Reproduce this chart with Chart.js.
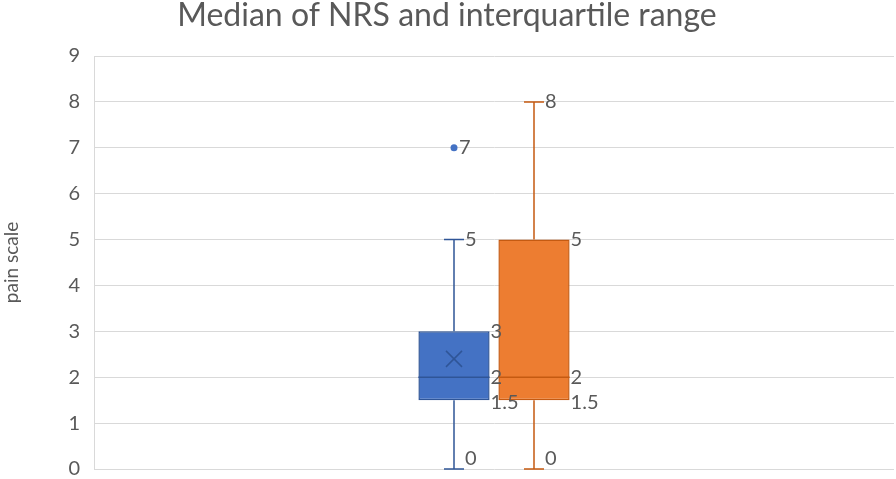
<!DOCTYPE html>
<html>
<head>
<meta charset="utf-8">
<script src="https://cdn.jsdelivr.net/npm/chart.js@4.4.1/dist/chart.umd.min.js"></script>
<style>
html,body{margin:0;padding:0;background:#fff;}
#wrap{width:896px;height:479px;position:relative;}
</style>
</head>
<body>
<div id="wrap"><canvas id="c" width="896" height="479"></canvas></div>
<script>
// ---- data ----
const categories = [''];
const seriesNames = ['Group 1', 'Group 2'];
const minVals = [0, 0];
const q1Vals = [1.5, 1.5];
const medianVals = [2, 2];
const q3Vals = [3, 5];
const maxVals = [5, 8];
const meanVals = [2.4, null];
const outlierVals = [[7], []];
const yTickValues = [0, 1, 2, 3, 4, 5, 6, 7, 8, 9];

// ---- styles ----
const fillColors = ['#4472C4', '#ED7D31'];
const lineColors = ['#2F5597', '#C55A11'];
const textColor = '#595959';
const FONT = 'Lato, "Open Sans", sans-serif';
const labelFont = '20px ' + FONT;

const boxPlugin = {
  id: 'boxParts',
  afterDatasetsDraw(chart) {
    const ctx = chart.ctx;
    const y = chart.scales.y;
    const area = chart.chartArea;
    ctx.save();
    chart.data.datasets.forEach((ds, i) => {
      const meta = chart.getDatasetMeta(i);
      meta.data.forEach((bar, j) => {
        const cx = bar.x;
        const half = bar.width / 2;
        const col = lineColors[i];
        ctx.strokeStyle = col;
        ctx.lineWidth = 1.5;
        const capHalf = 10;
        // whiskers
        ctx.beginPath();
        ctx.moveTo(cx, y.getPixelForValue(q3Vals[i]));
        ctx.lineTo(cx, y.getPixelForValue(maxVals[i]));
        ctx.moveTo(cx - capHalf, y.getPixelForValue(maxVals[i]));
        ctx.lineTo(cx + capHalf, y.getPixelForValue(maxVals[i]));
        ctx.moveTo(cx, y.getPixelForValue(q1Vals[i]));
        ctx.lineTo(cx, y.getPixelForValue(minVals[i]));
        ctx.moveTo(cx - capHalf, y.getPixelForValue(minVals[i]));
        ctx.lineTo(cx + capHalf, y.getPixelForValue(minVals[i]));
        ctx.stroke();
        // median
        ctx.beginPath();
        const my = y.getPixelForValue(medianVals[i]);
        ctx.moveTo(cx - half, my);
        ctx.lineTo(cx + half, my);
        ctx.stroke();
        // mean
        if (meanVals[i] != null) {
          const ey = y.getPixelForValue(meanVals[i]);
          const s = 8;
          ctx.beginPath();
          ctx.moveTo(cx - s, ey - s); ctx.lineTo(cx + s, ey + s);
          ctx.moveTo(cx + s, ey - s); ctx.lineTo(cx - s, ey + s);
          ctx.stroke();
        }
        // outliers
        ctx.fillStyle = fillColors[i];
        outlierVals[i].forEach(v => {
          ctx.beginPath();
          ctx.arc(cx, y.getPixelForValue(v), 3.5, 0, Math.PI * 2);
          ctx.fill();
        });
        // labels
        ctx.fillStyle = textColor;
        ctx.font = labelFont;
        ctx.textAlign = 'left';
        ctx.textBaseline = 'middle';
        const clampY = p => Math.min(p, area.bottom - 10);
        ctx.fillText(String(maxVals[i]), cx + capHalf + 1, clampY(y.getPixelForValue(maxVals[i])));
        ctx.fillText(String(minVals[i]), cx + capHalf + 1, clampY(y.getPixelForValue(minVals[i])));
        ctx.fillText(String(q3Vals[i]), cx + half + 1, y.getPixelForValue(q3Vals[i]));
        ctx.fillText(String(medianVals[i]), cx + half + 1, y.getPixelForValue(medianVals[i]));
        ctx.fillText(String(q1Vals[i]), cx + half + 1, y.getPixelForValue(q1Vals[i]) + 2);
        outlierVals[i].forEach(v => {
          ctx.fillText(String(v), cx + 5, y.getPixelForValue(v));
        });
      });
    });
    ctx.restore();
  }
};

new Chart(document.getElementById('c'), {
  type: 'bar',
  data: {
    labels: categories,
    datasets: seriesNames.map((name, i) => ({
      label: name,
      data: [[q1Vals[i], q3Vals[i]]],
      backgroundColor: fillColors[i],
      borderColor: lineColors[i],
      borderWidth: 1.5,
      borderSkipped: false,
      categoryPercentage: 0.2,
      barPercentage: 0.89
    }))
  },
  options: {
    responsive: false,
    animation: false,
    devicePixelRatio: 1,
    layout: { padding: { left: 0, right: 2, top: 0, bottom: 10 } },
    plugins: {
      legend: { display: false },
      tooltip: { enabled: false },
      title: {
        display: true,
        text: 'Median of NRS and interquartile range',
        color: textColor,
        font: { family: FONT, size: 32, weight: 'normal', lineHeight: 1.0 },
        padding: { top: 0, bottom: 24 }
      }
    },
    scales: {
      x: {
        display: false
      },
      y: {
        min: 0,
        max: 9,
        afterBuildTicks: s => { s.ticks = yTickValues.map(v => ({ value: v })); },
        grid: { color: '#D9D9D9', lineWidth: 1, drawTicks: false },
        border: { display: true, color: '#D9D9D9', width: 1 },
        ticks: { color: textColor, font: { family: FONT, size: 20 }, padding: 14 },
        title: { display: true, text: 'pain scale', color: textColor, font: { family: FONT, size: 19 }, padding: { top: 0, bottom: 28 } },
        afterFit: s => { s.width = 94; s.paddingTop = 0; s.paddingBottom = 0; }
      }
    }
  },
  plugins: [boxPlugin]
});
</script>
</body>
</html>
